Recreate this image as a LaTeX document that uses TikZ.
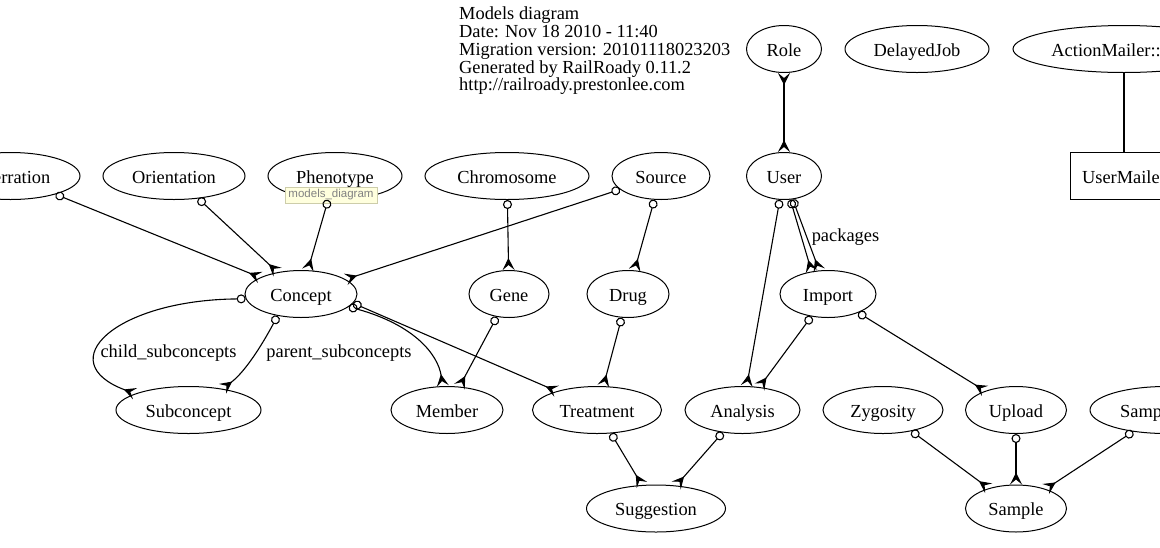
\documentclass[tikz,border=0pt]{standalone}
\usepackage{fontspec}
\setmainfont{Liberation Serif}
\newfontfamily\tipfont{Liberation Sans}
\usetikzlibrary{shapes.geometric,arrows.meta}
\definecolor{tipfill}{RGB}{255,255,222}
\definecolor{tipline}{RGB}{205,205,170}
\definecolor{tiptext}{RGB}{130,130,130}
\begin{document}
\begin{tikzpicture}[x=1pt,y=-1pt,
  ent/.style={ellipse,draw,line width=1pt,inner sep=0pt,minimum height=47pt,text height=15pt,text depth=1pt,font=\fontsize{18.4}{20}\selectfont},
  cls/.style={rectangle,draw,line width=1pt,inner sep=0pt,minimum height=47pt,text height=15pt,text depth=1pt,font=\fontsize{18.4}{20}\selectfont},
  lbl/.style={inner sep=0pt,font=\fontsize{18.4}{20}\selectfont},
  crow/.style={},
  rel/.style={line width=1.1pt,arrows={Circle[open,length=9pt,width=9pt]-Stealth[reversed,length=12pt,width=12pt,inset=5pt]}},
  habtm/.style={line width=1.1pt,arrows={Stealth[reversed,length=12pt,width=12pt,inset=5pt]-Stealth[reversed,length=12pt,width=12pt,inset=5pt]}},
  plain/.style={line width=1.1pt},
  tipbox/.style={rectangle,fill=tipfill,draw=tipline,line width=0.6pt,inner sep=0pt,minimum width=92pt,minimum height=16pt,text=tiptext,font=\tipfont\fontsize{11.5}{12}\selectfont}
]
\useasboundingbox (0,0) rectangle (1160,547);
\fill[white] (0,0) rectangle (1160,547);
\clip (0,0) rectangle (1160,547);

\node[anchor=north west,inner sep=0pt,align=left,font=\fontsize{18.4}{17.7}\selectfont] (header) at (459,7)
  {Models diagram\\Date: Nov 18 2010 - 11:40\\Migration version: 20101118023203\\Generated by RailRoady 0.11.2\\http://railroady.prestonlee.com};

% top row
\node[ent,minimum width=75pt] (Role) at (784,49) {Role};
\node[ent,minimum width=144pt] (DelayedJob) at (917,49) {DelayedJob};
\node[ent,minimum width=222pt] (AMBase) at (1124,49) {ActionMailer::Base};
% row 1
\node[ent,minimum width=139pt] (Aberration) at (10.5,176) {Aberration};
\node[ent,minimum width=142pt] (Orientation) at (174,176) {Orientation};
\node[ent,minimum width=134pt] (Phenotype) at (335,176) {Phenotype};
\node[ent,minimum width=164pt] (Chromosome) at (507,176) {Chromosome};
\node[ent,minimum width=98pt] (Source) at (661,176) {Source};
\node[ent,minimum width=75pt] (User) at (784,176) {User};
\node[cls,minimum width=108pt] (UserMailer) at (1124,176) {UserMailer};
% row 2
\node[ent,minimum width=112pt] (Concept) at (301,294) {Concept};
\node[ent,minimum width=80pt] (Gene) at (509,294) {Gene};
\node[ent,minimum width=82pt] (Drug) at (628,294) {Drug};
\node[ent,minimum width=96pt] (Import) at (828,294) {Import};
% row 3
\node[ent,minimum width=145pt] (Subconcept) at (188.5,410) {Subconcept};
\node[ent,minimum width=112pt] (Member) at (447,410) {Member};
\node[ent,minimum width=129pt] (Treatment) at (597,410) {Treatment};
\node[ent,minimum width=115pt] (Analysis) at (742.5,410) {Analysis};
\node[ent,minimum width=120pt] (Zygosity) at (883,410) {Zygosity};
\node[ent,minimum width=101pt] (Upload) at (1016,410) {Upload};
\node[ent,minimum width=152pt] (SampleType) at (1166,410) {SampleType};
% row 4
\node[ent,minimum width=139pt] (Suggestion) at (656,508.5) {Suggestion};
\node[ent,minimum width=101pt] (Sample) at (1016,508.5) {Sample};

\node[tipbox] (tooltip) at (331,195) {models\_diagram};

% connectors
\draw[rel] (Aberration) -- (Concept);
\draw[rel] (Orientation) -- (Concept);
\draw[rel] (Phenotype) -- (Concept);
\draw[rel] (Source) -- (Concept);
\draw[rel] (Chromosome) -- (Gene);
\draw[rel] (Source) -- (Drug);
\draw[habtm] (Role) -- (User);
\draw[rel] (User.-75.5) -- (Import.126);
\draw[rel] (User) -- (Import);
\draw[rel] (User) -- (Analysis);
\draw[rel] (Import) -- (Analysis);
\draw[rel] (Import) -- (Upload);
\draw[rel] (Concept.185) .. controls (115,300) and (50,362) .. (Subconcept.163);
\draw[rel] (Concept.-137) .. controls (262,345) and (245,372) .. (Subconcept.32);
\draw[rel] (Concept.-15) .. controls (415,325) and (438,355) .. (Member.100);
\draw[rel] (Concept.-10) -- (Treatment.155);
\draw[rel] (Gene) -- (Member);
\draw[rel] (Drug) -- (Treatment);
\draw[rel] (Treatment) -- (Suggestion);
\draw[rel] (Analysis) -- (Suggestion);
\draw[rel] (Zygosity) -- (Sample);
\draw[rel] (Upload) -- (Sample);
\draw[rel] (SampleType) -- (Sample);
\draw[plain] (AMBase) -- (UserMailer);

\node[lbl] (lchild) at (168.5,353) {child\_subconcepts};
\node[lbl] (lparent) at (339,353) {parent\_subconcepts};
\node[lbl] (lpack) at (845.5,237) {packages};
\end{tikzpicture}
\end{document}
